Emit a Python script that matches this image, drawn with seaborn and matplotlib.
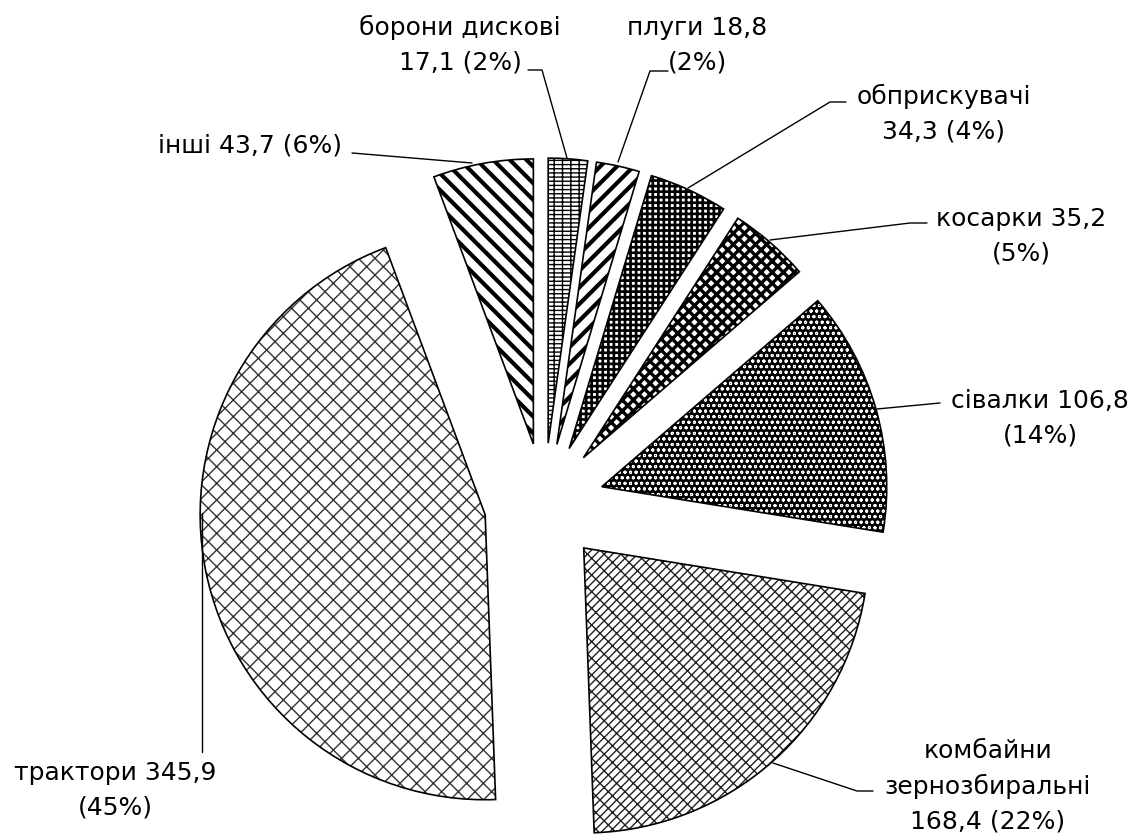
import matplotlib
matplotlib.use("Agg")
import matplotlib.pyplot as plt
import matplotlib.patches as mpatches
import seaborn as sns

# ---- data ----
categories = ["борони дискові", "плуги", "обприскувачі", "косарки",
              "сівалки", "комбайни зернозбиральні", "трактори", "інші"]
values = [17.1, 18.8, 34.3, 35.2, 106.8, 168.4, 345.9, 43.7]
percents = [2, 2, 4, 5, 14, 22, 45, 6]
label_texts = [
    "борони дискові\n17,1 (2%)",
    "плуги 18,8\n(2%)",
    "обприскувачі\n34,3 (4%)",
    "косарки 35,2\n(5%)",
    "сівалки 106,8\n(14%)",
    "комбайни\nзернозбиральні\n168,4 (22%)",
    "трактори 345,9\n(45%)",
    "інші 43,7 (6%)",
]

# ---- style ----
hatches = ["----||", "//", "+++", "xxx", "ooo", "////\\\\", "xx", "\\\\"]
hatch_lws = [1.0, 3.0, 1.9, 2.4, 0.7, 1.0, 1.0, 3.0]
face_cols = ["white", "white", "white", "white", "black", "white", "white", "white"]
hatch_cols = ["black", "black", "black", "black", "white", "#222222", "#333333", "black"]

sns.set_theme(style="white")
plt.rcParams["font.family"] = ["DejaVu Sans"]
plt.rcParams["hatch.color"] = "black"

W, H = 1137, 834
CX, CY = 544, 503          # pie centre, pixels from top-left
R = 285
EXPL = 60

# label layout (pixel positions, from top-left)
label_pos = [(460, 45), (697, 45), (944, 114), (1021, 236),
             (1040, 418), (988, 786), (115, 790), (250, 145)]
leaders = [
    [(528, 70), (542, 70), (567, 158)],
    [(668, 71), (650, 71), (618, 162)],
    [(846, 102), (830, 102), (688, 188)],
    [(927, 223), (910, 223), (770, 240)],
    [(940, 403), (877, 409)],
    [(873, 791), (857, 791), (773, 763)],
    [(202, 513), (202, 752)],
    [(352, 153), (472, 163)],
]

fig = plt.figure(figsize=(W / 100, H / 100), dpi=100)
ax = fig.add_axes([0, 0, 1, 1])
wedges, _ = ax.pie(values, startangle=90, counterclock=False, radius=R,
                   center=(CX, H - CY), explode=[EXPL] * len(values),
                   wedgeprops=dict(facecolor="white", edgecolor="black",
                                   linewidth=0))
for w, h, lw, fc, hc in zip(wedges, hatches, hatch_lws, face_cols, hatch_cols):
    w.set_facecolor(fc)
    w.set_edgecolor(hc)
    w.set_hatch(h)
    if hasattr(w, "set_hatch_linewidth"):
        w.set_hatch_linewidth(lw)
    # outline drawn on top with the wedge's own geometry
    ax.add_patch(mpatches.Wedge(w.center, w.r, w.theta1, w.theta2,
                                fill=False, edgecolor="black", linewidth=1.2,
                                zorder=w.get_zorder() + 0.1))

ax.set_xlim(0, W)
ax.set_ylim(0, H)
ax.set_aspect("equal")
ax.axis("off")

for txt, (px, py), pts in zip(label_texts, label_pos, leaders):
    ax.text(px, H - py, txt, ha="center", va="center", multialignment="center",
            fontsize=18, color="black", linespacing=1.55)
    xs = [p[0] for p in pts]
    ys = [H - p[1] for p in pts]
    ax.plot(xs, ys, color="black", linewidth=1.0)

fig.savefig("out.png", dpi=100, facecolor="white")
